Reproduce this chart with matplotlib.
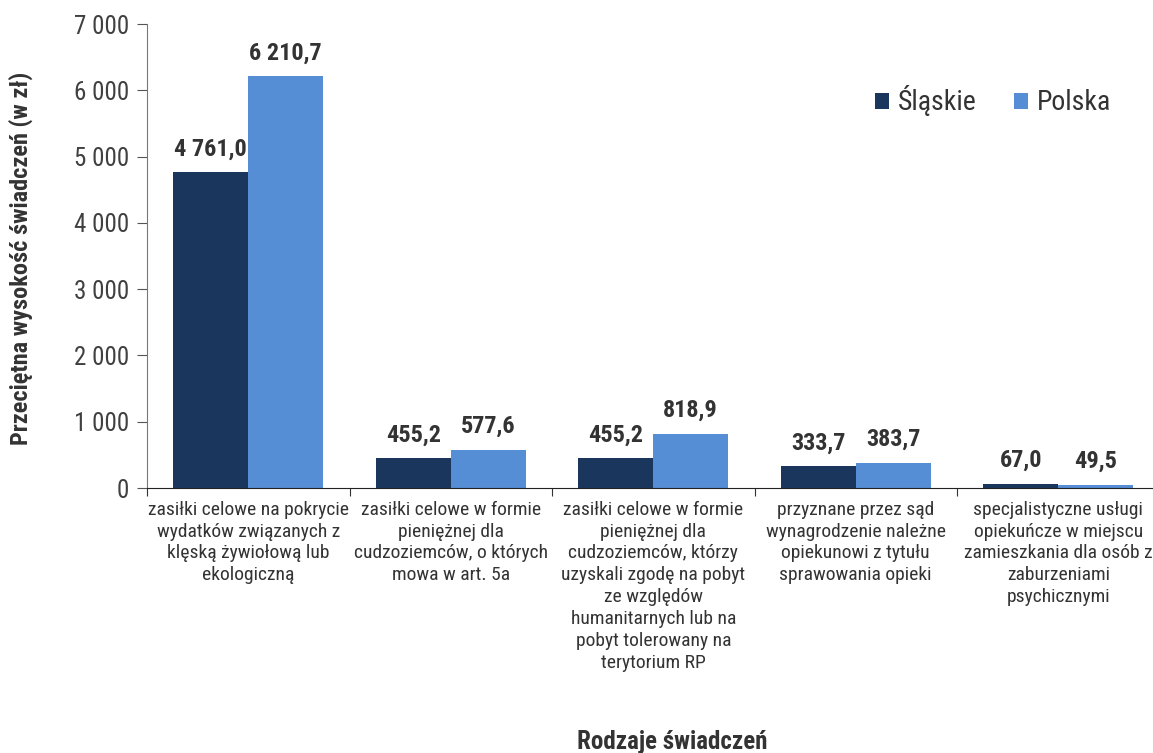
import numpy as np
import matplotlib.pyplot as plt
import matplotlib as mpl

mpl.rcParams['font.family'] = ['Roboto Condensed', 'Liberation Sans', 'DejaVu Sans']

categories = [
    'zasiłki celowe na pokrycie\nwydatków związanych z\nklęską żywiołową lub\nekologiczną',
    'zasiłki celowe w formie\npieniężnej dla\ncudzoziemców, o których\nmowa w art. 5a',
    'zasiłki celowe w formie\npieniężnej dla\ncudzoziemców, którzy\nuzyskali zgodę na pobyt\nze względów\nhumanitarnych lub na\npobyt tolerowany na\nterytorium RP',
    'przyznane przez sąd\nwynagrodzenie należne\nopiekunowi z tytułu\nsprawowania opieki',
    'specjalistyczne usługi\nopiekuńcze w miejscu\nzamieszkania dla osób z\nzaburzeniami\npsychicznymi',
]
slaskie = [4761.0, 455.2, 455.2, 333.7, 67.0]
polska = [6210.7, 577.6, 818.9, 383.7, 49.5]

dark = '#1b365d'
light = '#558ed5'
txt = '#333333'

def fmt(v):
    s = '{:,.1f}'.format(v)
    return s.replace(',', ' ').replace('.', ',')

fig = plt.figure(figsize=(11.53, 7.53), dpi=100)
ax = fig.add_axes([147 / 1153, 1 - 488 / 753, 1012.5 / 1153, 464 / 753])

x = np.arange(len(categories))
w = 0.37
b1 = ax.bar(x - w / 2, slaskie, w, color=dark, label='Śląskie')
b2 = ax.bar(x + w / 2, polska, w, color=light, label='Polska')

for bars, vals in [(b1, slaskie), (b2, polska)]:
    for bar, v in zip(bars, vals):
        ax.text(bar.get_x() + bar.get_width() / 2, v + 250, fmt(v),
                ha='center', va='baseline', fontsize=17.5, fontweight='bold', color=txt)

ax.set_xlim(-0.5, 4.5)
ax.set_ylim(0, 7000)
ax.set_yticks(range(0, 7001, 1000))
ax.set_yticklabels([fmt(t)[:-2] for t in range(0, 7001, 1000)], fontsize=18, color='#404040')

# group separators as ticks on the category axis
ax.set_xticks(np.arange(-0.5, 4.6, 1))
ax.set_xticklabels([])
ax.tick_params(axis='x', direction='out', length=6, color='#333333')
ax.tick_params(axis='y', direction='out', length=7, color='#555555', pad=6)
for i, c in enumerate(categories):
    ax.text(i, -190, c, ha='center', va='top', fontsize=14, color=txt, linespacing=1.28)

ax.spines['top'].set_visible(False)
ax.spines['right'].set_visible(False)
ax.spines['left'].set_color('#777777')
ax.spines['bottom'].set_color('#222222')

fig.text(21 / 1153, 1 - 258 / 753, 'Przeciętna wysokość świadczeń (w zł)', rotation=90,
         ha='center', va='center', fontsize=17.5, fontweight='bold', color=txt)
fig.text(672 / 1153, 1 - 742 / 753, 'Rodzaje świadczeń', ha='center', va='center',
         fontsize=18, fontweight='bold', color=txt)

leg = ax.legend(loc='center', bbox_to_anchor=((993 - 147) / 1012.5, (488 - 101) / 464),
                frameon=False, ncol=2, fontsize=20, handlelength=0.5, handleheight=0.5,
                handletextpad=0.32, columnspacing=1.35, borderpad=0, borderaxespad=0)
for t in leg.get_texts():
    t.set_color(txt)

fig.savefig('out.png', dpi=100)
